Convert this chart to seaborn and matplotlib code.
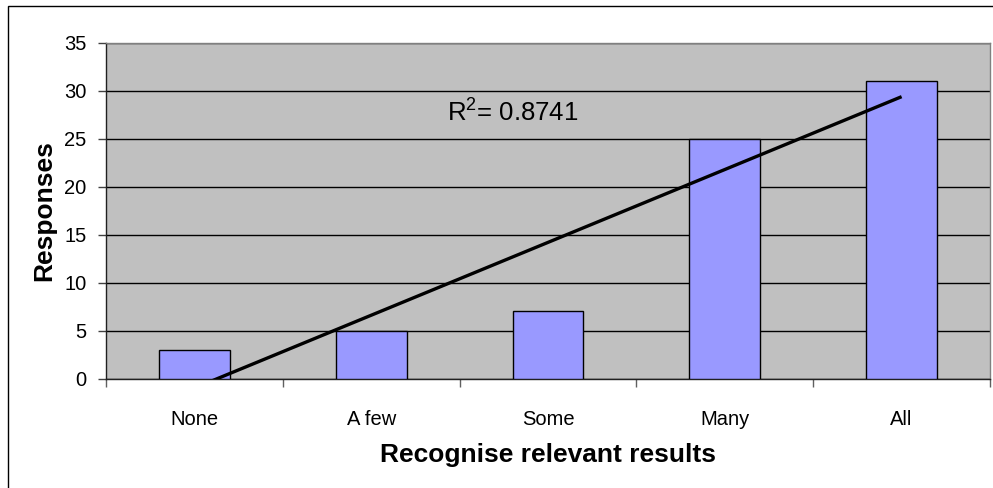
import numpy as np
import pandas as pd
import matplotlib
matplotlib.use("Agg")
import matplotlib.pyplot as plt
from matplotlib.patches import Rectangle
from matplotlib.ticker import FixedLocator
import seaborn as sns

categories = ["None", "A few", "Some", "Many", "All"]
responses = [3, 5, 7, 25, 31]
y_ticks = [0, 5, 10, 15, 20, 25, 30, 35]

sns.set_theme(style="white")
plt.rcParams["font.family"] = ["Liberation Sans", "DejaVu Sans"]
plt.rcParams["mathtext.fontset"] = "custom"
plt.rcParams["mathtext.rm"] = "Liberation Sans"
plt.rcParams["text.color"] = "black"
plt.rcParams["axes.labelcolor"] = "black"

df = pd.DataFrame({"category": categories, "responses": responses})
df["pos"] = np.arange(len(categories))

fig = plt.figure(figsize=(9.93, 4.88), dpi=100)
ax = fig.add_axes([106 / 993, 1 - 378.5 / 488, (990 - 106) / 993, (378.5 - 43) / 488])
ax.set_facecolor("#C0C0C0")

sns.barplot(data=df, x="category", y="responses", ax=ax, width=0.4,
            color="#9999FF", saturation=1, edgecolor="black", linewidth=1.0,
            zorder=3)

# linear trendline and its coefficient of determination
coef = np.polyfit(df["pos"] + 1, df["responses"], 1)
pred = np.polyval(coef, df["pos"] + 1)
ss_res = np.sum((df["responses"] - pred) ** 2)
ss_tot = np.sum((df["responses"] - df["responses"].mean()) ** 2)
r2 = 1 - ss_res / ss_tot
sns.regplot(data=df, x="pos", y="responses", ax=ax, scatter=False, ci=None,
            truncate=True, color="black",
            line_kws={"linewidth": 2.4, "zorder": 4, "solid_capstyle": "butt"})

ax.text(1.43, 26.8, r"$\mathregular{R^2}$" + f"= {r2:.4f}", fontsize=18.5,
        ha="left", va="baseline", color="black", zorder=5)

ax.set_xlim(-0.5, len(categories) - 0.5)
ax.set_ylim(0, 35)
ax.yaxis.set_major_locator(FixedLocator(y_ticks))
ax.grid(axis="y", color="black", linewidth=1.0, zorder=1)
ax.set_axisbelow(True)

ax.xaxis.set_major_locator(FixedLocator(df["pos"].tolist()))
ax.set_xticklabels(categories)
ax.xaxis.set_minor_locator(FixedLocator(np.arange(-0.5, len(categories), 1.0)))
ax.tick_params(axis="x", which="major", length=0, pad=23, labelsize=14.5, labelcolor="black")
ax.tick_params(axis="x", which="minor", length=6, width=1, color="#606060", bottom=True)
ax.tick_params(axis="y", which="major", length=6, width=1, color="#404040",
               left=True, pad=8, labelsize=14.5, labelcolor="black")

for side in ["left", "bottom"]:
    ax.spines[side].set_color("#202020")
    ax.spines[side].set_linewidth(1.0)
for side in ["top", "right"]:
    ax.spines[side].set_visible(True)
    ax.spines[side].set_color("#808080")
    ax.spines[side].set_linewidth(1.0)

ax.set_xlabel("Recognise relevant results", fontsize=19, fontweight="bold", labelpad=10)
ax.set_ylabel("Responses", fontsize=19, fontweight="bold", labelpad=6)

fig.patches.append(Rectangle((7.5 / 993, -0.05), 1.2, (488 - 6.5) / 488 + 0.05,
                             transform=fig.transFigure, fill=False,
                             edgecolor="black", linewidth=1.0))

fig.savefig("out.png", dpi=100, facecolor="white")
